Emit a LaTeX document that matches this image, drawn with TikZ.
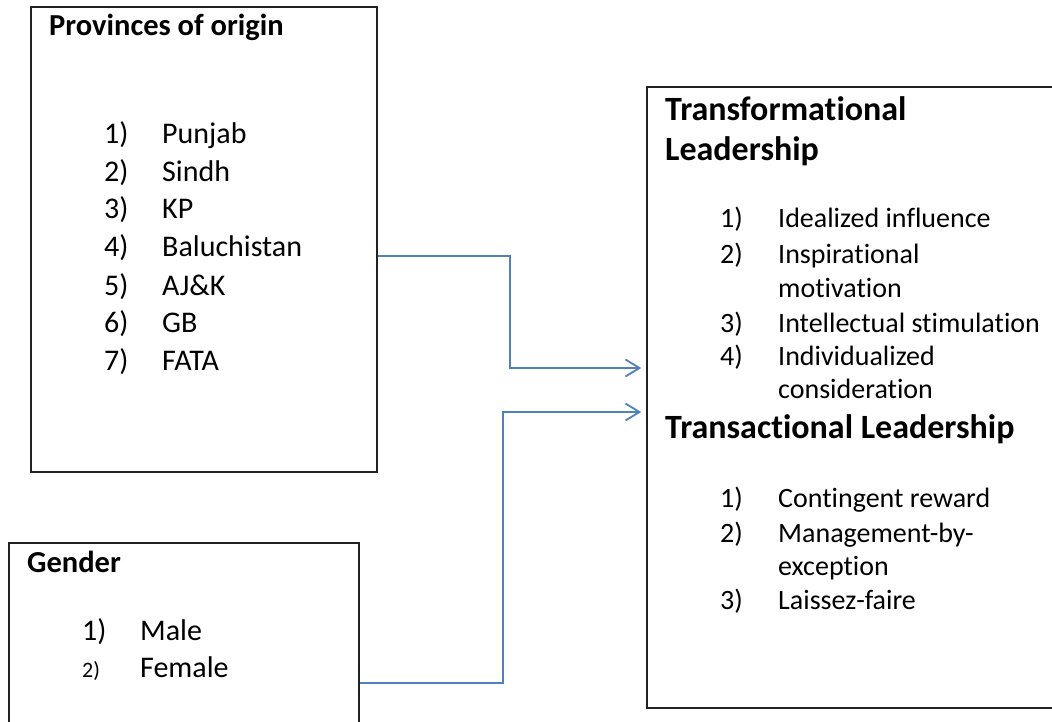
\documentclass[tikz,border=0pt]{standalone}
\usepackage{fontspec}
\setmainfont{Carlito}[Ligatures=NoCommon]
\usetikzlibrary{arrows.meta}
\definecolor{linkblue}{HTML}{4F81BD}
\definecolor{boxline}{HTML}{222222}
\tikzset{
  box/.style={draw=boxline, line width=1.6pt, rectangle, inner sep=0pt},
  head/.style={anchor=base west, inner sep=0pt, font=\fontsize{30.5}{36}\selectfont\bfseries},
  bighead/.style={anchor=base west, inner sep=0pt, font=\fontsize{34}{40}\selectfont\bfseries},
  item/.style={anchor=base west, inner sep=0pt, font=\fontsize{30}{36}\selectfont},
  ritem/.style={anchor=base west, inner sep=0pt, font=\fontsize{28}{34}\selectfont},
  link/.style={draw=linkblue, line width=1.8pt, -{Straight Barb[length=14pt,width=17pt,line width=1.8pt]}}
}
\begin{document}
\begin{tikzpicture}[x=1pt,y=-1pt]
\useasboundingbox (0,0) rectangle (1052,721);
\clip (0,0) rectangle (1052,721);
\fill[white] (0,0) rectangle (1052,721);

% boxes
\node[box, minimum width=346pt, minimum height=465pt] (prov) at (204,239.5) {};
\node[box, minimum width=350pt, minimum height=200pt] (gender) at (184,643) {};
\node[box, minimum width=440pt, minimum height=621pt] (lead) at (867,397.5) {};

% provinces of origin
\node[head] (provhead) at (49,35) {Provinces of origin};
\foreach \n/\t/\y in {1/Punjab/143, 2/Sindh/181, 3/KP/218, 4/Baluchistan/256, 5/AJ\&K/295, 6/GB/332, 7/FATA/370}{
  \node[item] (pn\n) at (104,\y) {\n)};
  \node[item] (pt\n) at (162,\y) {\t};
}

% gender
\node[head] (genhead) at (27,572) {Gender};
\node[item] (gn1) at (82,640) {1)};
\node[item] (gt1) at (140,640) {Male};
\node[anchor=base west, inner sep=0pt, font=\fontsize{22}{26}\selectfont] (gn2) at (82,677) {2)};
\node[item] (gt2) at (140,677) {Female};

% leadership styles
\node[bighead] (tfhead1) at (665,120) {Transformational};
\node[bighead] (tfhead2) at (665,160) {Leadership};
\node[ritem] (tn1) at (720,227) {1)};
\node[ritem] (tt1) at (778,227) {Idealized influence};
\node[ritem] (tn2) at (720,263) {2)};
\node[ritem] (tt2a) at (778,263) {Inspirational};
\node[ritem] (tt2b) at (778,297) {motivation};
\node[ritem] (tn3) at (720,332) {3)};
\node[ritem] (tt3) at (778,332) {Intellectual stimulation};
\node[ritem] (tn4) at (720,365) {4)};
\node[ritem] (tt4a) at (778,365) {Individualized};
\node[ritem] (tt4b) at (778,398) {consideration};

\node[bighead] (tshead) at (665,438) {Transactional Leadership};
\node[ritem] (sn1) at (720,507) {1)};
\node[ritem] (st1) at (778,507) {Contingent reward};
\node[ritem] (sn2) at (720,542) {2)};
\node[ritem] (st2a) at (778,542) {Management-by-};
\node[ritem] (st2b) at (778,575) {exception};
\node[ritem] (sn3) at (720,609) {3)};
\node[ritem] (st3) at (778,609) {Laissez-faire};

% connectors
\coordinate (tip1) at ([xshift=-5pt]lead.west |- 0,368);
\coordinate (tip2) at ([xshift=-5pt]lead.west |- 0,412);
\draw[link] (prov.east |- 0,256) -| (510,312) |- (tip1);
\draw[link] (gender.east |- 0,683) -| (503,550) |- (tip2);
\end{tikzpicture}
\end{document}
